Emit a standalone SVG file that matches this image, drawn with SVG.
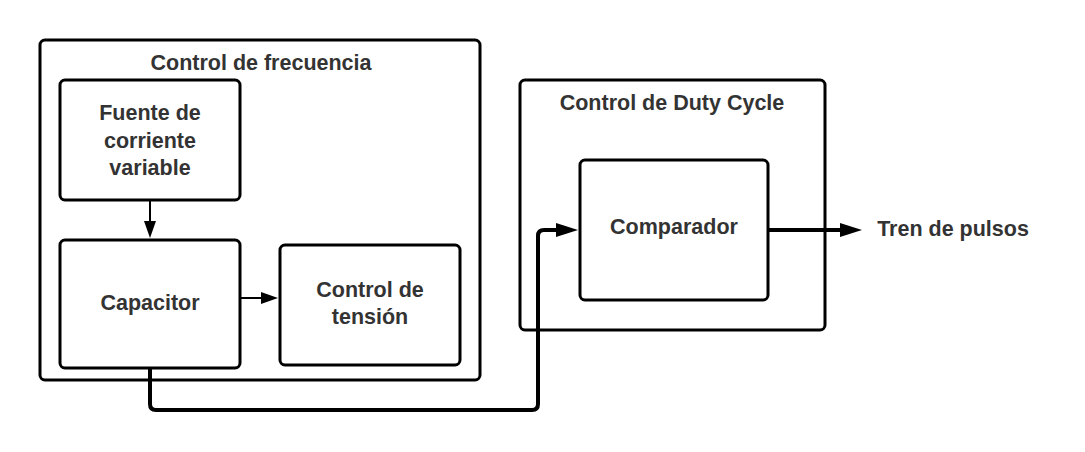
<svg xmlns="http://www.w3.org/2000/svg" width="1085" height="452" viewBox="0 0 1085 452">
<defs>
<style>
.box{fill:#fff;stroke:#000;stroke-width:3}
.t{font-family:"Liberation Sans",Arial,sans-serif;font-weight:bold;font-size:21.5px;fill:#333;text-anchor:middle}
.c{fill:none;stroke:#000;stroke-linejoin:round}
</style>
<marker id="ah" markerWidth="17" markerHeight="12" refX="1" refY="6" markerUnits="userSpaceOnUse" orient="auto"><path d="M0,0 L17,6 L0,12 z" fill="#000"/></marker>
<marker id="ahb" markerWidth="22" markerHeight="14" refX="1" refY="7" markerUnits="userSpaceOnUse" orient="auto"><path d="M0,0 L22,7 L0,14 z" fill="#000"/></marker>
</defs>
<rect width="1085" height="452" fill="#fff"/>
<g id="frecuencia">
<rect class="box" x="40" y="40" width="440" height="340" rx="5"/>
<text class="t" x="261" y="70">Control de frecuencia</text>
</g>
<g id="duty">
<rect class="box" x="520" y="80" width="305" height="250" rx="5"/>
<text class="t" x="672" y="110">Control de Duty Cycle</text>
</g>
<g id="fuente">
<rect class="box" x="60" y="80" width="180" height="120" rx="5"/>
<text class="t" x="150" y="120">Fuente de</text>
<text class="t" x="150" y="148">corriente</text>
<text class="t" x="150" y="175">variable</text>
</g>
<g id="capacitor">
<rect class="box" x="60" y="240" width="180" height="128" rx="5"/>
<text class="t" x="150" y="310">Capacitor</text>
</g>
<g id="tension">
<rect class="box" x="280" y="245" width="180" height="120" rx="5"/>
<text class="t" x="370" y="297">Control de</text>
<text class="t" x="370" y="324">tensión</text>
</g>
<g id="comparador">
<rect class="box" x="580" y="160" width="188" height="140" rx="5"/>
<text class="t" x="674" y="234">Comparador</text>
</g>
<g id="salida">
<text class="t" x="953" y="236">Tren de pulsos</text>
</g>
<g id="connectors">
<path class="c" stroke-width="2" d="M150,200 L150,222" marker-end="url(#ah)"/>
<path class="c" stroke-width="2" d="M240,298 L262,298" marker-end="url(#ah)"/>
<path class="c" stroke-width="4" d="M150,368 L150,404 Q150,410 156,410 L532,410 Q538,410 538,404 L538,236 Q538,230 544,230 L557,230" marker-end="url(#ahb)"/>
<path class="c" stroke-width="4" d="M768,230 L841,230" marker-end="url(#ahb)"/>
</g>
</svg>
